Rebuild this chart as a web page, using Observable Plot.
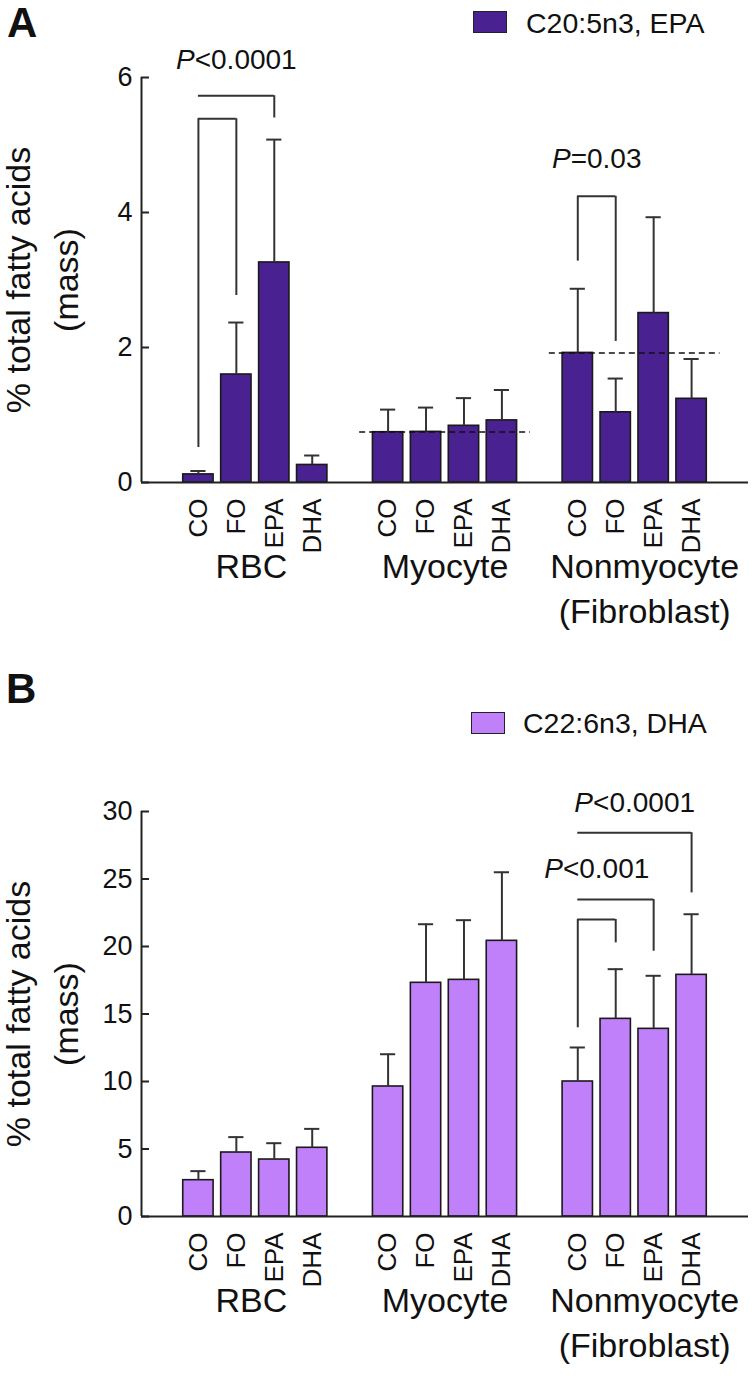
<!DOCTYPE html>
<html><head><meta charset="utf-8">
<script src="https://cdn.jsdelivr.net/npm/d3@7"></script>
<script src="https://cdn.jsdelivr.net/npm/@observablehq/plot@0.6"></script>
<style>
body{margin:0;background:#fff;font-family:"Liberation Sans",Arial,sans-serif;color:#111;}
#wrap{position:relative;width:752px;height:1393px;overflow:hidden;}
.panel{position:absolute;left:0;}
.letter{position:absolute;font-weight:bold;font-size:42px;line-height:1;}
.sw{position:absolute;box-sizing:border-box;width:34px;height:22px;border:1.5px solid #222;}
.lt{position:absolute;font-size:28.5px;line-height:1;white-space:nowrap;}
</style></head><body><div id="wrap"></div>
<script>
// ---- data ----
const diets = ["CO", "FO", "EPA", "DHA"];
const cells = ["RBC", "Myocyte", "Nonmyocyte\n(Fibroblast)"];
const epaTicks = [0, 2, 4, 6];
const dhaTicks = [0, 5, 10, 15, 20, 25, 30];
// means, per cell (RBC, Myocyte, Nonmyocyte) x diet (CO, FO, EPA, DHA)
const epaMean = [0.12, 1.60, 3.26, 0.26, 0.745, 0.75, 0.84, 0.92, 1.92, 1.04, 2.51, 1.24];
const epaUpper = [0.17, 2.37, 5.08, 0.40, 1.08, 1.11, 1.25, 1.37, 2.87, 1.54, 3.93, 1.83];
const dhaMean = [2.69, 4.74, 4.22, 5.09, 9.63, 17.31, 17.53, 20.42, 10.0, 14.64, 13.9, 17.9];
const dhaUpper = [3.36, 5.88, 5.43, 6.49, 12.02, 21.65, 21.95, 25.5, 12.52, 18.32, 17.83, 22.39];
// significance brackets: top value, leg ends (null = no leg)
const epaBrackets = [
  {cell: 0, from: "CO", to: "EPA", top: 5.73, left: null, right: 5.40},
  {cell: 0, from: "CO", to: "FO", top: 5.39, left: 0.52, right: 2.77},
  {cell: 2, from: "CO", to: "FO", top: 4.24, left: 3.28, right: 2.09}
];
const dhaBrackets = [
  {cell: 2, from: "CO", to: "DHA", top: 28.43, left: null, right: 23.97},
  {cell: 2, from: "CO", to: "EPA", top: 23.48, left: null, right: 19.65},
  {cell: 2, from: "CO", to: "FO", top: 22.0, left: 13.98, right: 20.27}
];
const epaP = [
  {cell: 0, from: "CO", to: "EPA", y: 6.13, text: "<0.0001"},
  {cell: 2, from: "CO", to: "FO", y: 4.66, text: "=0.03"}
];
const dhaP = [
  {cell: 2, from: "CO", to: "DHA", y: 29.93, text: "<0.0001"},
  {cell: 2, from: "CO", to: "FO", y: 25.1, text: "<0.001"}
];
const epaRefs = [{cell: 1, value: 0.75}, {cell: 2, value: 1.92}];
const dhaRefs = [];

// ---- drawing ----
const FONT = "'Liberation Sans', Arial, sans-serif";
const slot = (c, d) => c * 5 + diets.indexOf(d);
const cv = document.createElement("canvas").getContext("2d");
function tw(str, font) { cv.font = font; return cv.measureText(str).width; }

function panel({mean, upper, yDomain, ticks, fill, brackets, pLabels, refs, height, marginTop, marginBottom}) {
  const rows = mean.map((m, i) => ({cell: Math.floor(i / 4), diet: diets[i % 4], slot: Math.floor(i / 4) * 5 + (i % 4), mean: m, upper: upper[i]}));
  const hSeg = brackets.map(b => ({x1: slot(b.cell, b.from), x2: slot(b.cell, b.to), y: b.top}));
  const vSeg = [];
  brackets.forEach(b => {
    if (b.left != null) vSeg.push({x: slot(b.cell, b.from), y1: b.left, y2: b.top});
    if (b.right != null) vSeg.push({x: slot(b.cell, b.to), y1: b.right, y2: b.top});
  });
  const pMarks = [];
  pLabels.forEach(p => {
    const cx = (slot(p.cell, p.from) + slot(p.cell, p.to)) / 2;
    const pw = tw("P", "italic 28px " + FONT);
    const rw = tw(p.text, "28px " + FONT);
    const total = pw + rw;
    pMarks.push(Plot.text([p], {x: () => cx, y: "y", text: () => "P", fontStyle: "italic", textAnchor: "start", lineAnchor: "bottom", fontSize: 28, dx: -total / 2, fill: "#111"}));
    pMarks.push(Plot.text([p], {x: () => cx, y: "y", text: "text", textAnchor: "start", lineAnchor: "bottom", fontSize: 28, dx: -total / 2 + pw, fill: "#111"}));
  });
  const cellMarks = cells.map((c, i) => Plot.text([c], {x: () => i * 5 + 1.5, y: () => 0, text: d => d, lineAnchor: "top", fontSize: 34, lineHeight: 1.32, dy: 64, dx: i === 0 ? -4 : i === 2 ? 10 : 0, fill: "#111"}));
  const xmin = -1.5, xmax = 14.5;
  return Plot.plot({
    width: 752, height, marginLeft: 141, marginRight: 4, marginTop, marginBottom,
    x: {domain: [xmin, xmax], axis: null},
    y: {domain: yDomain, axis: null},
    style: {fontFamily: FONT, color: "#222", background: "white"},
    marks: [
      Plot.rect(rows, {x1: d => d.slot - 0.4, x2: d => d.slot + 0.4, y1: () => 0, y2: "mean", fill, stroke: "#1a1a1a", strokeWidth: 1.6}),
      Plot.ruleX(rows, {x: "slot", y1: "mean", y2: "upper", stroke: "#333", strokeWidth: 2}),
      Plot.ruleY(rows, {x1: d => d.slot - 0.2, x2: d => d.slot + 0.2, y: "upper", stroke: "#333", strokeWidth: 2}),
      Plot.ruleY(refs, {y: "value", x1: d => d.cell * 5 - 0.75, x2: d => d.cell * 5 + 3.75, stroke: "#111", strokeWidth: 1.5, strokeDasharray: "6,4"}),
      Plot.ruleY(hSeg, {x1: "x1", x2: "x2", y: "y", stroke: "#333", strokeWidth: 2}),
      Plot.ruleX(vSeg, {x: "x", y1: "y1", y2: "y2", stroke: "#333", strokeWidth: 2}),
      Plot.ruleY([yDomain[0]], {x1: xmin, x2: xmax, stroke: "#222", strokeWidth: 2}),
      Plot.ruleX([xmin], {y1: yDomain[0], y2: yDomain[1], stroke: "#222", strokeWidth: 2}),
      Plot.axisY(ticks, {tickSize: 8, dx: 8, fill: "none", stroke: "#222", strokeWidth: 2}),
      Plot.axisY(ticks, {tickSize: 0, tickPadding: 9, fontSize: 27, label: null, fill: "#111", tickFormat: d3.format("d")}),
      Plot.text(rows, {x: "slot", y: () => 0, text: "diet", rotate: -90, textAnchor: "end", lineAnchor: "middle", fontSize: 26, dy: 16, fill: "#111"}),
      Plot.text(["% total fatty acids\n(mass)"], {frameAnchor: "left", text: d => d, rotate: -90, textAnchor: "middle", lineAnchor: "top", fontSize: 34, lineHeight: 1.4, dx: -145, fill: "#111"}),
      ...cellMarks,
      ...pMarks
    ]
  });
}

const wrap = document.getElementById("wrap");
const a = panel({mean: epaMean, upper: epaUpper, yDomain: [0, 6], ticks: epaTicks, fill: "#4a2190", brackets: epaBrackets, pLabels: epaP, refs: epaRefs, height: 660, marginTop: 77, marginBottom: 178});
a.classList.add("panel"); a.style.top = "0px"; wrap.appendChild(a);
const b = panel({mean: dhaMean, upper: dhaUpper, yDomain: [0, 30], ticks: dhaTicks, fill: "#c080fa", brackets: dhaBrackets, pLabels: dhaP, refs: dhaRefs, height: 733, marginTop: 151, marginBottom: 177});
b.classList.add("panel"); b.style.top = "660px"; wrap.appendChild(b);

function addDiv(cls, text, left, top, extra) {
  const d = document.createElement("div");
  d.className = cls; d.textContent = text;
  d.style.left = left + "px"; d.style.top = top + "px";
  if (extra) Object.assign(d.style, extra);
  wrap.appendChild(d);
}
addDiv("letter", "A", 7, 2);
addDiv("letter", "B", 6, 668);
addDiv("sw", "", 473, 11, {background: "#4a2190"});
addDiv("lt", "C20:5n3, EPA", 526, 9);
addDiv("sw", "", 471, 712, {background: "#c080fa"});
addDiv("lt", "C22:6n3, DHA", 523, 709);
</script></body></html>
